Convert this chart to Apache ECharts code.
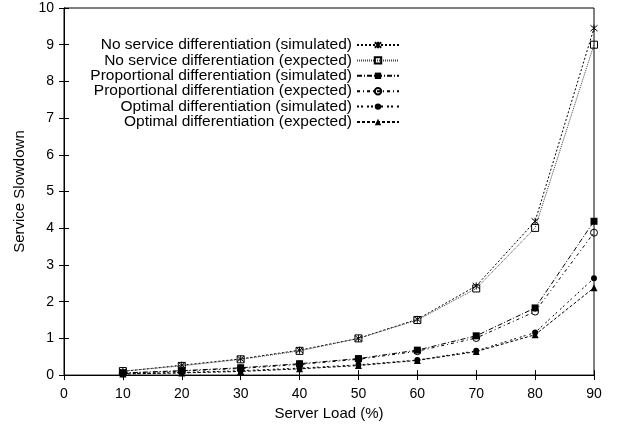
<!DOCTYPE html>
<html><head><meta charset="utf-8">
<script src="https://cdn.jsdelivr.net/npm/echarts@6/dist/echarts.min.js"></script>
<style>html,body{margin:0;padding:0;background:#fff}#c{width:618px;height:426px}</style>
</head><body><div id="c"></div>
<script>
const loads = [10, 20, 30, 40, 50, 60, 70, 80, 90];
const noDiffSim = [0.10, 0.27, 0.44, 0.68, 1.00, 1.52, 2.43, 4.19, 9.45];
const noDiffExp = [0.11, 0.25, 0.43, 0.66, 1.00, 1.50, 2.36, 4.01, 9.00];
const propSim = [0.06, 0.12, 0.20, 0.31, 0.45, 0.68, 1.07, 1.83, 4.19];
const propExp = [0.05, 0.11, 0.18, 0.29, 0.43, 0.65, 1.01, 1.73, 3.88];
const optSim = [0.04, 0.07, 0.12, 0.19, 0.28, 0.41, 0.66, 1.16, 2.64];
const optExp = [0.03, 0.06, 0.10, 0.17, 0.26, 0.40, 0.64, 1.10, 2.38];
const seriesNames = [
  'No service differentiation (simulated)',
  'No service differentiation (expected)',
  'Proportional differentiation (simulated)',
  'Proportional differentiation (expected)',
  'Optimal differentiation (simulated)',
  'Optimal differentiation (expected)'
];

const font = 'Liberation Sans, Arial, Helvetica, sans-serif';
const pairs = v => loads.map((x, i) => [x, v[i]]);
const asterisk = 'path://M0,0L10,10M10,0L0,10M5,-1L5,11';

function mk(name, vals, symbol, size, filled, dash, color) {
  return {
    name, type: 'line', data: pairs(vals),
    symbol, symbolSize: size, showSymbol: true,
    lineStyle: { color: color || '#000', width: 1, type: dash },
    itemStyle: filled
      ? { color: '#000', borderColor: '#000', borderWidth: 0 }
      : { color: 'rgba(0,0,0,0)', borderColor: '#000', borderWidth: 1 },
    emphasis: { disabled: true },
    animation: false, z: 3
  };
}

const chart = echarts.init(document.getElementById('c'), null, { renderer: 'canvas' });
chart.setOption({
  backgroundColor: '#fff',
  animation: false,
  grid: { left: 64, right: 24, top: 8, bottom: 50, show: true, borderColor: '#000', borderWidth: 1, backgroundColor: 'transparent' },
  legend: {
    orient: 'vertical', align: 'right', right: 218, top: 37, padding: 0,
    itemWidth: 42, itemHeight: 8, itemGap: -0.6,
    textStyle: { fontFamily: font, fontSize: 15.5, lineHeight: 15, color: '#000' },
    data: seriesNames
  },
  xAxis: [{
    type: 'value', min: 0, max: 90, interval: 10,
    name: 'Server Load (%)', nameLocation: 'middle', nameGap: 30,
    nameTextStyle: { fontFamily: font, fontSize: 15, color: '#000' },
    axisLine: { show: true, lineStyle: { color: '#000' } },
    axisTick: { show: true, inside: true, length: 5, lineStyle: { color: '#000' } },
    axisLabel: { fontFamily: font, fontSize: 14, color: '#000', margin: 12 },
    splitLine: { show: false }
  }, {
    type: 'value', min: 0, max: 90, interval: 10, position: 'top',
    axisLine: { show: true, lineStyle: { color: '#000' } },
    axisTick: { show: true, inside: true, length: 5, lineStyle: { color: '#000' } },
    axisLabel: { show: false }, splitLine: { show: false }
  }],
  yAxis: [{
    type: 'value', min: 0, max: 10, interval: 1,
    name: 'Service Slowdown', nameLocation: 'middle', nameGap: 35, nameRotate: 90,
    nameTextStyle: { fontFamily: font, fontSize: 15, color: '#000' },
    axisLine: { show: true, lineStyle: { color: '#000' } },
    axisTick: { show: true, inside: true, length: 5, lineStyle: { color: '#000' } },
    axisLabel: { fontFamily: font, fontSize: 14, color: '#000', margin: 10 },
    splitLine: { show: false }
  }, {
    type: 'value', min: 0, max: 10, interval: 1, position: 'right',
    axisLine: { show: true, lineStyle: { color: '#000' } },
    axisTick: { show: true, inside: true, length: 5, lineStyle: { color: '#000' } },
    axisLabel: { show: false }, splitLine: { show: false }
  }],
  series: [
    mk(seriesNames[0], noDiffSim, asterisk, 7, false, [2, 2]),
    mk(seriesNames[1], noDiffExp, 'rect', 7, false, [1, 1], '#444'),
    mk(seriesNames[2], propSim, 'rect', 7, true, [5, 2, 1, 2]),
    mk(seriesNames[3], propExp, 'circle', 7, false, [3, 3, 1, 3]),
    mk(seriesNames[4], optSim, 'circle', 6, true, [2, 2, 2, 4]),
    mk(seriesNames[5], optExp, 'triangle', 7, true, [3, 2])
  ]
});
</script></body></html>
